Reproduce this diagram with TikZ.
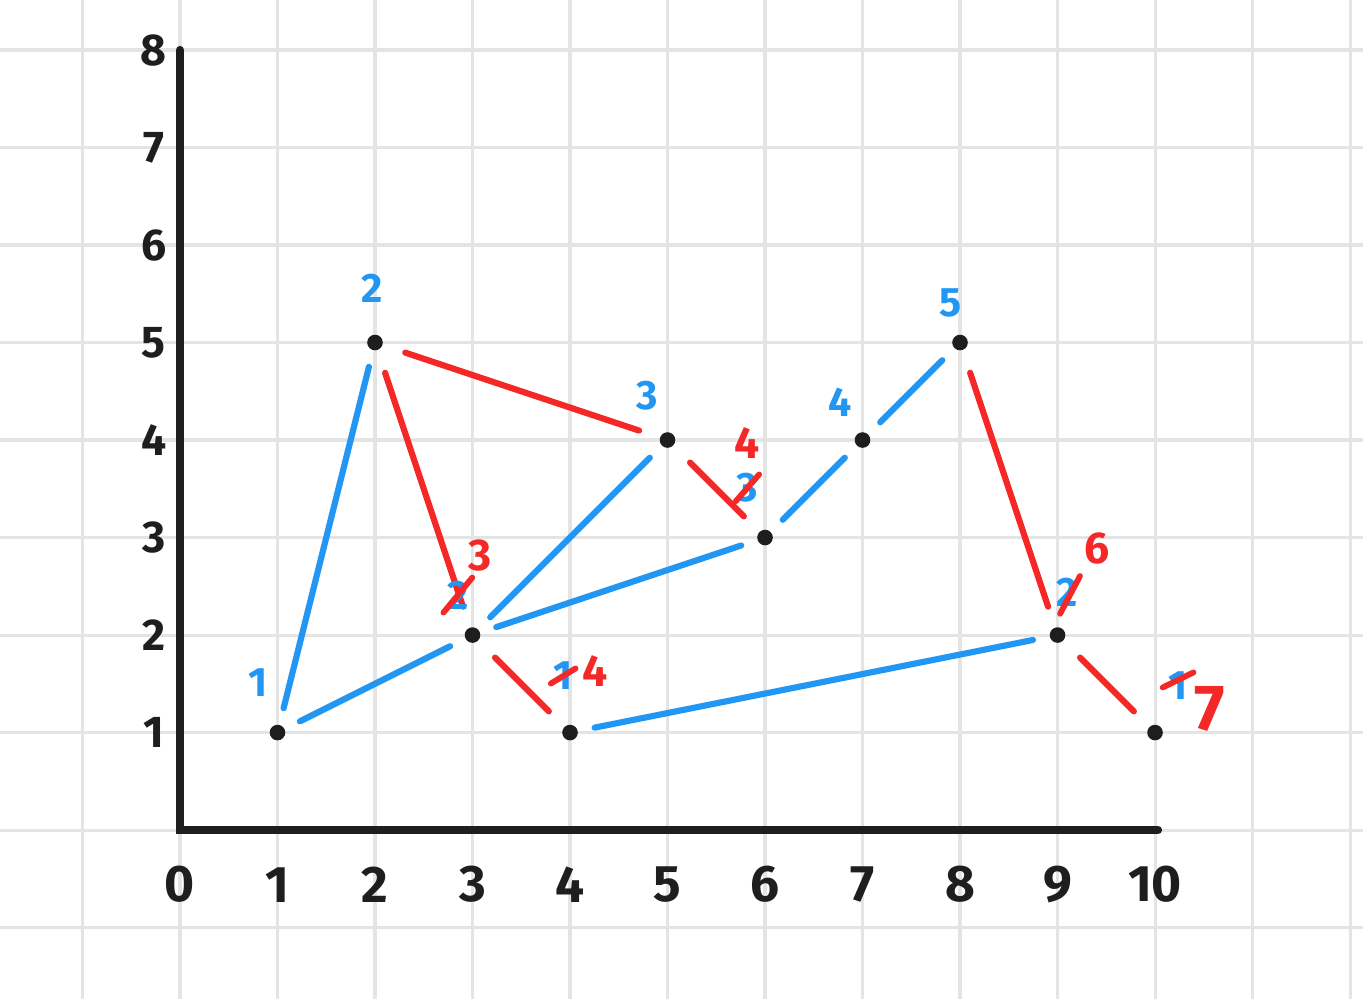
\documentclass[tikz,border=0pt]{standalone}
\usepackage{fontspec}
\setmainfont{Fira Sans}
\usetikzlibrary{positioning}
\definecolor{penblue}{RGB}{33,150,243}
\definecolor{penred}{RGB}{244,40,38}
\definecolor{penblack}{RGB}{30,30,30}
\definecolor{gridgray}{RGB}{228,228,228}

\begin{document}
\begin{tikzpicture}[
  vertex/.style={circle, fill=penblack, inner sep=0pt, minimum size=0.16cm},
  blueedge/.style={penblue, line width=1.8pt, line cap=round, shorten <=0.17cm, shorten >=0.17cm},
  rededge/.style={penred, line width=1.8pt, line cap=round, shorten <=0.24cm, shorten >=0.22cm},
  bluelbl/.style={text=penblue, font=\bfseries\fontsize{12}{14}\selectfont, inner sep=1pt},
  redlbl/.style={text=penred, font=\bfseries\fontsize{13}{15}\selectfont, inner sep=1pt},
  strike/.style={penred, line width=1.7pt, line cap=round},
  axis/.style={penblack, line width=2.4pt, line cap=round},
  xticklbl/.style={text=penblack, font=\bfseries\fontsize{15}{18}\selectfont},
  yticklbl/.style={text=penblack, font=\bfseries\fontsize{13}{15}\selectfont},
]
\useasboundingbox (-1.846,-1.733) rectangle (12.133,8.513);
\fill[white] (-1.846,-1.733) rectangle (12.133,8.513);

%% Background grid
\draw[gridgray, line width=0.9pt, step=1] (-1.846,-1.733) grid (12.133,8.513);

%% Axes
\coordinate (ytop)   at (0,8);
\coordinate (origin) at (0,0);
\coordinate (xend)   at (10.03,0);
\draw[axis] (ytop) -- (origin) -- (xend);

%% Tick labels
\foreach \k in {1,...,8} \node[yticklbl] (y\k) at (-0.27,\k) {\k};
\foreach \k in {0,...,10} \node[xticklbl] (x\k) at (\k,-0.56) {\k};

%% Vertices
\node[vertex] (a) at (1,1) {};
\node[vertex] (b) at (2,5) {};
\node[vertex] (c) at (3,2) {};
\node[vertex] (d) at (4,1) {};
\node[vertex] (e) at (5,4) {};
\node[vertex] (f) at (6,3) {};
\node[vertex] (g) at (7,4) {};
\node[vertex] (h) at (8,5) {};
\node[vertex] (i) at (9,2) {};
\node[vertex] (j) at (10,1) {};

%% Blue edges
\draw[blueedge] (a) -- (b);
\draw[blueedge] (a) -- (c);
\draw[blueedge] (c) -- (e);
\draw[blueedge] (c) -- (f);
\draw[blueedge] (f) -- (g);
\draw[blueedge] (g) -- (h);
\draw[blueedge] (d) -- (i);

%% Red edges
\draw[rededge] (b) -- (e);
\draw[rededge] (b) -- (c);
\draw[rededge] (c) -- (d);
\draw[rededge] (e) -- (f);
\draw[rededge] (h) -- (i);
\draw[rededge] (i) -- (j);

%% Blue labels
\node[bluelbl] (la) at (0.80,1.51) {1};
\node[bluelbl] (lb) at (1.97,5.56) {2};
\node[bluelbl] (lc) at (2.85,2.41) {2};
\node[bluelbl] (ld) at (3.93,1.58) {1};
\node[bluelbl] (le) at (4.79,4.46) {3};
\node[bluelbl] (lf) at (5.82,3.51) {3};
\node[bluelbl] (lg) at (6.77,4.39) {4};
\node[bluelbl] (lh) at (7.90,5.41) {5};
\node[bluelbl] (li) at (9.10,2.44) {2};
\node[bluelbl] (lj) at (10.24,1.48) {1};

%% Red corrections
\node[redlbl] (rc) at (3.08,2.82) {3};
\node[redlbl] (rd) at (4.26,1.63) {4};
\node[redlbl] (rf) at (5.82,3.97) {4};
\node[redlbl] (ri) at (9.41,2.89) {6};
\node[redlbl, font=\bfseries\fontsize{19}{22}\selectfont] (rj) at (10.56,1.24) {7};

%% Crossed-out blue labels
\draw[strike] ([shift={(-4.2pt,-5.1pt)}]lc.center) -- ([shift={(4.2pt,5.1pt)}]lc.center);
\draw[strike] ([shift={(-3.6pt,-2.2pt)}]ld.center) -- ([shift={(3.6pt,2.2pt)}]ld.center);
\draw[strike] ([shift={(-3.4pt,-3.9pt)}]lf.center) -- ([shift={(3.4pt,3.9pt)}]lf.center);
\draw[strike] ([shift={(-2.1pt,-6.3pt)}]li.center) -- ([shift={(3.7pt,4.7pt)}]li.center);
\draw[strike] ([shift={(-4.6pt,-0.5pt)}]lj.center) -- ([shift={(4.4pt,3.9pt)}]lj.center);
\end{tikzpicture}
\end{document}
